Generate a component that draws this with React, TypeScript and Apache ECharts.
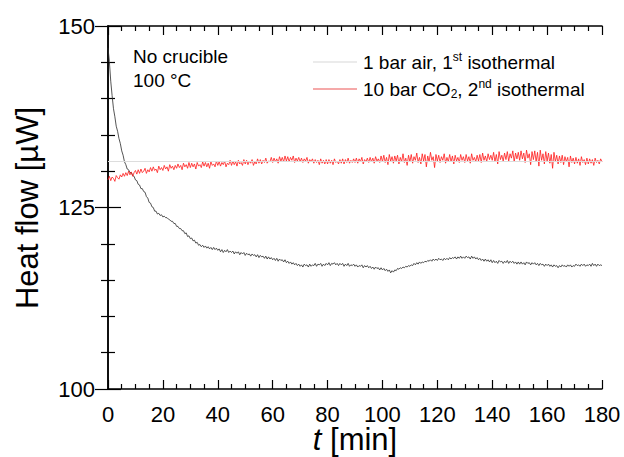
import React, { useEffect, useRef } from "react";
import * as echarts from "echarts";

// Sampling step of the measured traces [min]
const timeStep = 0.5;

// Heat flow [µW], 1 bar air, 1st isothermal (every 0.5 min from 0 to 180 min)
const airValues = [
  147.0,145.1,142.4,140.4,138.6,137.5,136.2,135.5,134.5,133.8,
  132.8,132.2,131.3,130.9,130.3,130.2,129.8,129.8,129.4,129.3,
  128.8,128.7,128.2,128.1,127.6,127.6,127.2,127.1,126.5,126.3,
  125.7,125.6,125.1,125.0,124.5,124.5,124.1,124.2,123.9,124.0,
  123.7,123.8,123.6,123.6,123.4,123.3,123.1,123.1,122.8,122.8,
  122.4,122.4,122.1,122.1,121.8,121.8,121.4,121.5,121.0,121.1,
  120.7,120.8,120.4,120.5,120.1,120.2,119.8,119.9,119.6,119.8,
  119.5,119.7,119.4,119.6,119.3,119.5,119.2,119.5,119.2,119.4,
  119.1,119.3,118.9,119.2,118.8,119.1,118.9,119.2,118.8,119.0,
  118.8,119.0,118.6,118.9,118.7,118.9,118.5,118.8,118.6,118.8,
  118.4,118.7,118.5,118.6,118.3,118.6,118.4,118.5,118.2,118.5,
  118.1,118.4,118.2,118.3,118.0,118.3,117.9,118.2,117.9,118.1,
  117.8,118.0,117.7,118.0,117.6,117.9,117.7,117.8,117.5,117.8,
  117.4,117.6,117.3,117.5,117.2,117.4,117.1,117.3,117.0,117.2,
  116.9,117.1,116.8,117.2,117.0,117.1,116.8,117.2,116.9,117.1,
  117.0,117.3,116.9,117.2,117.1,117.3,116.9,117.2,117.0,117.3,
  117.1,117.4,117.0,117.3,117.2,117.4,117.1,117.3,117.0,117.3,
  117.1,117.3,116.9,117.2,117.0,117.3,116.9,117.1,117.0,117.2,
  116.9,117.1,116.8,117.0,116.9,117.1,116.7,117.0,116.8,117.0,
  116.7,116.9,116.6,116.8,116.5,116.8,116.6,116.7,116.4,116.7,
  116.4,116.6,116.3,116.5,116.2,116.4,116.0,116.3,116.1,116.4,
  116.3,116.6,116.5,116.7,116.6,116.8,116.7,116.9,116.8,117.0,
  116.9,117.1,117.0,117.3,117.1,117.4,117.2,117.5,117.3,117.5,
  117.4,117.6,117.5,117.7,117.6,117.8,117.6,117.9,117.7,117.9,
  117.7,118.0,117.8,117.9,117.7,118.0,117.8,118.0,117.8,118.1,
  117.9,118.1,118.0,118.2,117.9,118.2,118.0,118.3,118.0,118.2,
  118.0,118.3,118.1,118.2,117.9,118.3,118.0,118.2,117.9,118.1,
  117.8,118.0,117.7,117.9,117.6,117.9,117.6,117.8,117.5,117.8,
  117.4,117.7,117.4,117.6,117.3,117.7,117.5,117.6,117.3,117.6,
  117.4,117.7,117.3,117.6,117.4,117.6,117.3,117.5,117.2,117.5,
  117.2,117.5,117.2,117.4,117.1,117.5,117.3,117.4,117.1,117.4,
  117.2,117.4,117.1,117.3,117.0,117.3,117.1,117.2,116.9,117.2,
  117.0,117.2,116.9,117.1,116.8,117.1,116.9,117.0,116.7,117.0,
  116.8,117.1,116.9,117.0,116.8,117.1,116.9,117.1,116.8,117.0,
  116.9,117.2,117.0,117.1,116.9,117.2,117.0,117.2,116.9,117.1,
  117.0,117.2,116.9,117.3,117.0,117.2,116.9,117.2,117.0,117.1,
  117.0
];

// Heat flow [µW], 10 bar CO2, 2nd isothermal (every 0.5 min from 0 to 180 min)
const co2Values = [
  128.8,129.3,128.7,129.2,129.0,128.6,129.4,129.1,128.9,129.5,
  129.2,129.7,129.3,129.8,129.4,130.0,129.5,129.9,129.3,129.8,
  130.1,129.6,130.2,129.7,130.3,129.8,130.0,130.4,129.7,130.2,
  129.9,130.5,130.0,130.6,130.1,130.3,129.8,130.7,130.2,130.5,
  130.1,130.8,130.3,130.6,130.0,130.9,130.4,130.7,130.2,130.8,
  130.4,131.0,130.5,130.8,130.2,131.1,130.6,130.9,130.4,131.2,
  130.5,131.1,130.6,131.0,130.3,131.2,130.7,130.9,130.5,131.3,
  130.7,131.2,130.6,131.1,130.4,131.3,130.8,131.0,130.6,131.4,
  130.8,131.3,130.7,131.2,130.9,131.4,130.6,131.1,130.9,131.5,
  130.8,131.4,130.9,131.3,130.7,131.5,131.0,131.2,130.8,131.6,
  131.0,131.5,130.9,131.4,131.1,131.6,130.8,131.3,131.0,131.7,
  131.1,131.6,131.0,131.5,131.2,131.8,131.1,131.4,131.3,131.9,
  131.2,131.8,131.3,131.7,131.1,132.0,131.4,131.9,131.3,132.1,
  131.4,132.0,131.3,131.9,131.5,132.1,131.2,131.8,131.4,131.9,
  131.3,131.8,131.2,131.7,131.4,131.9,131.1,131.6,131.3,131.7,
  131.1,131.6,131.2,131.5,130.9,131.7,131.1,131.5,131.0,131.6,
  131.0,131.6,131.1,131.5,130.9,131.7,131.2,131.4,131.0,131.6,
  131.1,131.7,131.0,131.6,131.2,131.8,131.1,131.5,131.2,131.7,
  131.2,131.8,131.1,131.7,131.3,131.9,131.0,131.6,131.3,131.8,
  131.2,131.9,131.3,131.8,131.1,132.0,131.4,131.7,131.2,132.1,
  131.3,132.2,131.2,131.9,130.9,132.3,131.4,132.0,131.1,132.1,
  131.4,132.2,131.0,131.9,131.3,132.4,131.2,131.8,130.8,132.2,
  131.3,132.3,131.1,132.0,131.5,132.5,131.2,131.9,131.0,132.4,
  131.4,132.3,130.6,132.1,131.3,132.6,131.5,132.0,130.5,132.3,
  131.4,132.2,131.2,132.0,131.5,132.4,131.1,131.9,131.3,132.3,
  131.3,132.1,131.0,132.2,131.4,131.9,131.2,132.3,131.5,132.0,
  131.2,132.3,131.4,132.0,131.1,132.4,131.5,131.9,131.3,132.2,
  131.4,132.3,131.2,132.5,131.5,132.1,131.3,132.4,131.6,132.2,
  131.5,132.6,131.3,132.3,131.0,132.7,131.6,132.2,131.4,132.5,
  131.6,132.7,131.4,132.4,131.8,132.8,131.3,132.5,131.7,132.6,
  131.5,132.8,131.7,132.5,131.2,132.9,131.8,132.4,130.9,132.7,
  131.6,132.8,131.3,132.6,130.7,132.9,131.5,132.4,131.0,132.7,
  131.4,132.5,131.1,132.3,130.4,132.6,131.3,132.2,131.0,132.1,
  131.2,132.2,130.9,132.0,131.3,131.9,130.6,132.1,131.2,131.8,
  131.0,131.9,131.1,131.7,130.8,132.0,131.2,131.6,130.9,131.8,
  131.0,131.7,131.1,131.6,130.8,131.8,131.2,131.5,131.0,131.7,
  131.3
];

// Faint horizontal reference line [µW]
const referenceLevel = 131.4;

// Axis settings
const xMin = 0, xMax = 180, xInterval = 20;
const yMin = 100, yMax = 150, yInterval = 25;

const seriesNames = ["1 bar air, 1st isothermal", "10 bar CO2, 2nd isothermal"];
const legendTexts = [
  "{n|1 bar air, 1}{sup|st}{n| isothermal}",
  "{n|10 bar CO}{sub|2}{n|, 2}{sup|nd}{n| isothermal}",
];
const legendColors = ["#e4e4e4", "#f28c8c"];
const annotationLines = ["No crucible", "100 °C"];
const xAxisTitle = "{i|t}{n| [min]}";
const yAxisTitle = "Heat flow [µW]";

const FONT = "'Liberation Sans', Arial, Helvetica, sans-serif";

function makeAxis(kind: "x" | "y", position: string | null, withLabels: boolean): any {
  const isX = kind === "x";
  const axis: any = {
    type: "value",
    min: isX ? xMin : yMin,
    max: isX ? xMax : yMax,
    interval: isX ? xInterval : yInterval,
    axisLine: { show: true, lineStyle: { color: "#000", width: 1.5 } },
    axisTick: {
      show: true,
      inside: true,
      length: isX ? 9 : 13,
      lineStyle: { color: "#000", width: 1.2 },
    },
    minorTick: {
      show: true,
      splitNumber: isX ? 4 : 5,
      length: isX ? 5 : 7,
      lineStyle: { color: "#000", width: 1.2 },
    },
    splitLine: { show: false },
    axisLabel: withLabels
      ? { show: true, fontSize: 22, fontFamily: FONT, color: "#000", margin: isX ? 14 : 13 }
      : { show: false },
  };
  if (position) axis.position = position;
  return axis;
}

export default function App() {
  const ref = useRef<HTMLDivElement>(null);

  useEffect(() => {
    if (!ref.current) return;
    const chart = echarts.init(ref.current, undefined, { renderer: "svg" });

    const airData = airValues.map((v, i) => [i * timeStep, v]);
    const co2Data = co2Values.map((v, i) => [i * timeStep, v]);

    const legendRich = {
      n: { fontSize: 19, fontFamily: FONT, fill: "#000", color: "#000", lineHeight: 22 },
      sup: { fontSize: 12, fontFamily: FONT, fill: "#000", color: "#000", lineHeight: 12, verticalAlign: "top" },
      sub: { fontSize: 12, fontFamily: FONT, fill: "#000", color: "#000", lineHeight: 12, verticalAlign: "bottom" },
    };

    const legendY = [62, 89];
    const legendGraphics: any[] = [];
    legendY.forEach((y, k) => {
      legendGraphics.push({
        type: "line",
        silent: true,
        shape: { x1: 313, y1: y, x2: 357, y2: y },
        style: { stroke: legendColors[k], lineWidth: 1.5 },
      });
      legendGraphics.push({
        type: "text",
        silent: true,
        x: 363,
        y: y,
        style: {
          text: legendTexts[k],
          rich: legendRich,
          verticalAlign: "middle",
          align: "left",
          fontSize: 19,
          fontFamily: FONT,
          fill: "#000",
        },
      });
    });

    const option: any = {
      animation: false,
      backgroundColor: "#fff",
      grid: { left: 108, right: 22, top: 26, bottom: 68, containLabel: false, outerBoundsMode: "none" },
      graphic: [
        {
          type: "text",
          silent: true,
          x: 133,
          y: 44,
          style: {
            text: annotationLines.join("\n"),
            fontSize: 19,
            fontFamily: FONT,
            fill: "#000",
            lineHeight: 24,
          },
        },
        ...legendGraphics,
        {
          type: "text",
          silent: true,
          x: 27,
          y: 208,
          rotation: Math.PI / 2,
          style: {
            text: yAxisTitle,
            fontSize: 31,
            fontFamily: FONT,
            fill: "#000",
            align: "center",
            verticalAlign: "middle",
          },
        },
        {
          type: "text",
          silent: true,
          x: 355,
          y: 439,
          style: {
            text: xAxisTitle,
            align: "center",
            verticalAlign: "middle",
            fontSize: 31,
            fontFamily: FONT,
            fill: "#000",
            rich: {
              i: { fontSize: 31, fontFamily: FONT, fontStyle: "italic", fill: "#000", color: "#000" },
              n: { fontSize: 31, fontFamily: FONT, fill: "#000", color: "#000" },
            },
          },
        },
      ],
      xAxis: [makeAxis("x", null, true), makeAxis("x", "top", false)],
      yAxis: [makeAxis("y", null, true), makeAxis("y", "right", false)],
      series: [
        {
          name: seriesNames[0],
          type: "line",
          data: airData,
          xAxisIndex: 0,
          yAxisIndex: 0,
          symbol: "none",
          lineStyle: { color: "#2a2a2a", width: 0.8 },
          itemStyle: { color: "#2a2a2a" },
          markLine: {
            silent: true,
            symbol: "none",
            label: { show: false },
            lineStyle: { color: "#dddddd", width: 1, type: "solid" },
            data: [{ yAxis: referenceLevel }],
          },
        },
        {
          name: seriesNames[1],
          type: "line",
          data: co2Data,
          xAxisIndex: 0,
          yAxisIndex: 0,
          symbol: "none",
          lineStyle: { color: "#ff1a1a", width: 0.8 },
          itemStyle: { color: "#ff1a1a" },
        },
      ],
    };

    chart.setOption(option);
    return () => chart.dispose();
  }, []);

  return (
    <div
      ref={ref}
      style={{ position: "absolute", left: 0, top: 0, width: 624, height: 457 }}
    />
  );
}
